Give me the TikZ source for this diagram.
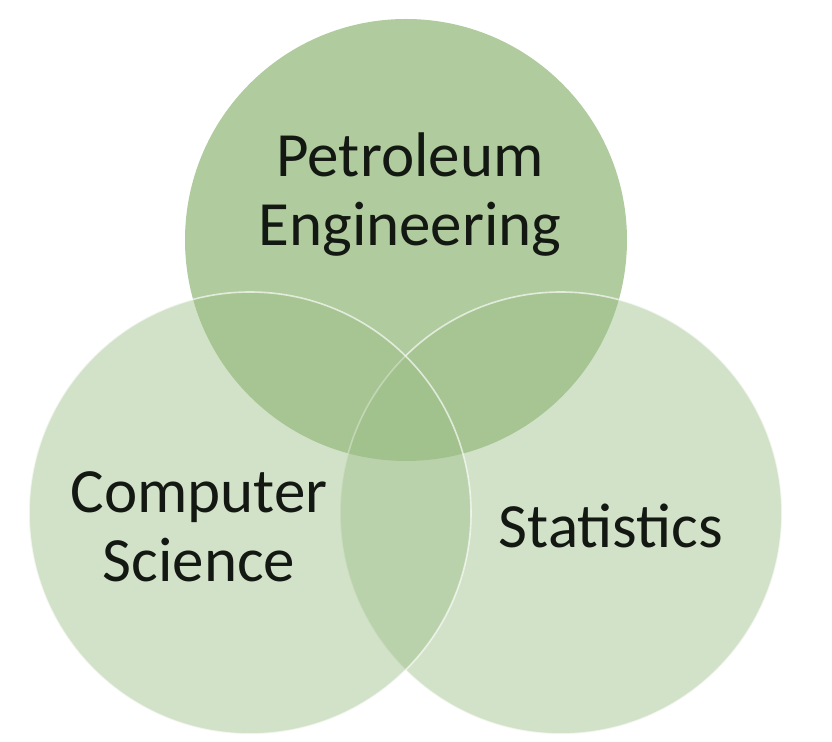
\documentclass[tikz,border=0pt]{standalone}
\usepackage{fontspec}
\setmainfont{Carlito}
\usepackage{tikz}
\usetikzlibrary{positioning}
\definecolor{venngreen}{RGB}{156,190,134}
\definecolor{labelgray}{RGB}{20,24,18}
\tikzstyle{Circle} = [circle, inner sep=0pt, minimum size=221pt, fill=venngreen]
\tikzstyle{Side}   = [Circle, fill opacity=0.45, draw=white, draw opacity=0.65, line width=0.8pt]
\tikzstyle{Top}    = [Circle, fill opacity=0.8]
\tikzstyle{Label}  = [align=center, anchor=base, inner sep=0pt, text=labelgray,
                      font=\fontsize{31.5pt}{34.5pt}\selectfont]

\begin{document}
\begin{tikzpicture}[x=0.5pt, y=-0.5pt]
    \useasboundingbox (0,0) rectangle (832,742);
    \node[Top]  (c_petroleum)  at (406,240) {};
    \node[Side] (c_statistics) at (561,513) {};
    \node[Side] (c_computer)   at (250,513) {};
    % base anchor sits on the last line of a two-line label
    \node[Label] (l_petroleum)  at (410,246) {Petroleum\\Engineering};
    \node[Label] (l_computer)   at (199,582) {Computer\\Science};
    \node[Label] (l_statistics) at (611,548) {Statistics};
  \end{tikzpicture}
\end{document}
